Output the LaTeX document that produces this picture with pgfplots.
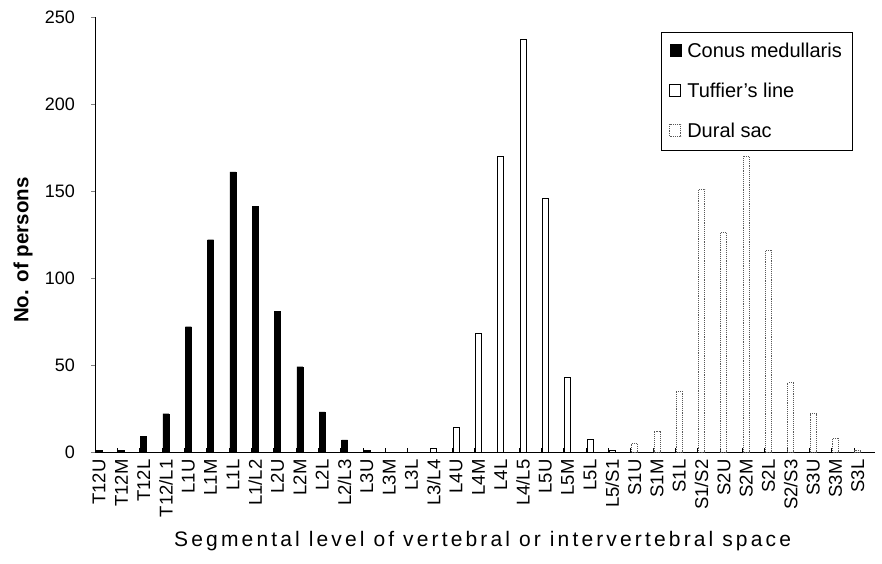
\documentclass[border=0pt]{standalone}
\usepackage{fontspec}
\setmainfont{Liberation Sans}
\newfontfamily\xlabfont[LetterSpace=15]{Liberation Sans}
\usepackage{pgfplots}
\pgfplotsset{compat=1.18}

\begin{document}
\begin{tikzpicture}
\useasboundingbox (0,0) rectangle (882pt,563pt);
\begin{axis}[
  scale only axis, width=780pt, height=435pt,
  at={(95pt,111pt)}, anchor=south west,
  xmin=-0.18, xmax=34.77, ymin=0, ymax=250,
  axis x line=bottom, axis y line=left,
  axis line style={-, line width=1pt},
  /pgf/number format/assume math mode=true,
  ytick={0,50,...,250}, ytick align=outside, major tick length=4pt,
  yticklabel style={font=\fontsize{18}{18}\selectfont, inner sep=0pt, xshift=-16pt},
  xtick={0,...,34},
  xticklabels={T12U,T12M,T12L,T12/L1,L1U,L1M,L1L,L1/L2,L2U,L2M,L2L,L2/L3,L3U,L3M,L3L,L3/L4,L4U,L4M,L4L,L4/L5,L5U,L5M,L5L,L5/S1,S1U,S1M,S1L,S1/S2,S2U,S2M,S2L,S2/S3,S3U,S3M,S3L},
  x tick label style={rotate=90, anchor=east, font=\fontsize{18.5}{19}\selectfont},
  xtick style={draw=none},
  extra x ticks={0.82,1.82,...,33.82}, extra x tick labels={},
  extra x tick style={xtick style={draw=black, thin}, tick align=inside, major tick length=4pt},
  ylabel={\bfseries No. of persons},
  ylabel style={at={(axis description cs:-0.0923,0.464)}, anchor=center, font=\fontsize{20.5}{21}\selectfont},
  xlabel={\xlabfont Segmental level of vertebral or intervertebral space},
  xlabel style={at={(axis description cs:0.497,-0.205)}, anchor=center, font=\fontsize{21}{21}\selectfont},
  ybar, bar width=6pt,
  legend style={at={(axis description cs:0.9705,0.9655)}, anchor=north east,
    font=\fontsize{20}{20}\selectfont, draw=black, thin, fill=white,
    inner xsep=8pt, inner ysep=9pt, row sep=20pt,
    /tikz/every odd column/.append style={column sep=4pt}},
  legend cell align=left,
]
\addplot[bar shift=0pt, fill=black, draw=black,
  legend image code/.code={\draw[fill=black, draw=black] (0pt,-5pt) rectangle (11pt,7pt);}]
  coordinates {(0,1)(1,1)(2,9)(3,22)(4,72)(5,122)(6,161)(7,141)(8,81)(9,49)(10,23)(11,7)(12,1)};
\addlegendentry{Conus medullaris}
\addplot[bar shift=0pt, fill=white, draw=black, line width=0.8pt,
  legend image code/.code={\draw[fill=white, draw=black, line width=0.8pt] (0pt,-5pt) rectangle (11pt,7pt);}]
  coordinates {(15,2)(16,14)(17,68)(18,170)(19,237)(20,146)(21,43)(22,7)(23,1)};
\addlegendentry{Tuffier's line}
\addplot[bar shift=0pt, fill=white, draw=black!65, densely dotted, line width=0.9pt,
  legend image code/.code={\draw[fill=white, draw=black!65, densely dotted, line width=0.9pt] (0pt,-5pt) rectangle (11pt,7pt);}]
  coordinates {(24,5)(25,12)(26,35)(27,151)(28,126)(29,170)(30,116)(31,40)(32,22)(33,8)(34,1)};
\addlegendentry{Dural sac}
\end{axis}
\end{tikzpicture}
\end{document}
